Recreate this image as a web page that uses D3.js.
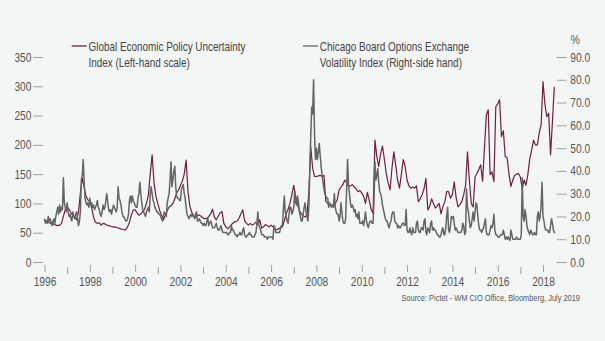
<!DOCTYPE html>
<html><head><meta charset="utf-8">
<script src="https://cdn.jsdelivr.net/npm/d3@7"></script>
<style>
html,body{margin:0;padding:0;background:#f4f5f5;}
svg{display:block;}
text{font-family:"Liberation Sans",Arial,sans-serif;}
</style></head><body>
<svg id="c" width="605" height="341"></svg>
<script>
// ---------- DATA ----------
const startYear = 1996;
const yearTicks = d3.range(1996, 2019);
const leftTicks = [0, 50, 100, 150, 200, 250, 300, 350];
const rightTicks = [0, 10, 20, 30, 40, 50, 60, 70, 80, 90];
const seriesNames = ["Global Economic Policy Uncertainty", "Index (Left-hand scale)",
                     "Chicago Board Options Exchange", "Volatility Index (Right-side hand)"];
const sourceText = "Source: Pictet - WM CIO Office, Bloomberg, July 2019";

// Global Economic Policy Uncertainty index, monthly from Jan 1996 (left scale)
const epu = [
  72,70,68,66,68,64,63,62,63,66,78,90,            // 1996
  94,90,84,80,76,72,85,118,143,128,112,106,       // 1997
  104,92,76,68,66,67,63,66,65,63,62,61,           // 1998
  60,60,59,58,57,56,55,55,60,68,80,89,            // 1999
  89,84,80,82,86,90,100,114,150,183,135,112,      // 2000
  100,88,80,72,80,88,94,96,100,108,118,123,       // 2001
  131,138,150,174,120,95,85,78,76,80,80,78,       // 2002
  75,74,74,78,82,90,76,72,78,84,86,66,            // 2003
  60,57,60,64,67,69,70,75,82,89,70,66,            // 2004
  63,66,63,65,68,64,72,58,60,64,62,60,            // 2005
  63,60,56,55,57,58,60,70,83,90,100,115,          // 2006
  131,112,98,88,82,79,77,80,120,197,160,146,      // 2007
  146,147,148,146,148,103,100,98,97,96,100,106,   // 2008
  123,128,132,140,135,129,130,132,128,125,120,122,// 2009
  118,112,100,119,105,90,83,208,180,163,185,198,  // 2010
  175,151,135,123,160,188,165,140,126,150,175,163,// 2011
  140,130,126,128,126,130,103,108,115,125,143,89, // 2012
  95,108,100,92,96,100,82,95,103,120,120,109,     // 2013
  115,137,110,94,98,103,115,131,188,140,100,94,   // 2014
  145,151,158,166,138,195,251,260,149,154,137,265,// 2015
  270,277,214,224,180,178,150,129,140,148,150,151,// 2016
  145,125,140,131,150,177,191,208,200,200,220,234,// 2017
  308,270,248,254,183,240,299                     // 2018
];

// CBOE Volatility index, twice a month from Jan 1996 (right scale, %)
const vix = [
  19,17,18,17,20,18,19,17,16,18,19,17,20,22,24,21,25,22,24,23,37,26,24,22,   // 1996
  26,22,20,21,19,18,22,20,19,21,22,19,16,18,22,36,38,45,35,28,26,25,26,24,   // 1997
  28,25,26,24,25,23,24,25,27,24,23,21,20,22,25,23,24,27,30,26,23,22,23,21,   // 1998
  23,25,24,23,22,24,33,28,27,25,22,20,20,19,18,18,19,21,27,29,26,29,27,26,   // 1999
  25,24,24,28,30,35,30,26,23,22,21,20,22,23,24,22,30,33,30,27,26,24,23,22,   // 2000
  22,21,21,20,19,18,20,22,21,20,26,28,30,36,44,33,36,40,42,33,29,28,28,27,   // 2001
  27,32,33,34,30,28,24,21,20,19,20,21,20,21,20,19,21,22,18,18,19,18,17,17,   // 2002
  16,17,16,16,18,19,16,17,18,17,15,15,15,16,17,15,14,14,15,16,14,13,13,13,   // 2003
  13,13,12,12,13,13,16,14,14,13,12,12,11,12,12,13,12,12,14,15,12,11,11,12,   // 2004
  12,13,12,12,11,11,11,12,13,17,22,16,15,14,12,12,12,11,11,11,10,11,11,11,   // 2005
  11,11,10,16,15,13,13,13,13,13,15,16,16,23,29,22,20,18,17,21,24,24,21,22,   // 2006
  24,31,26,25,29,26,22,20,18,18,21,24,26,22,20,18,24,40,55,68,65,80,56,45,   // 2007
  50,45,48,52,47,42,38,35,32,30,29,28,28,24,26,25,24,25,24,30,24,22,21,21,   // 2008
  18,20,26,22,18,17,17,19,32,45,34,30,26,24,25,24,22,23,20,21,19,22,17,17,   // 2009
  17,18,16,19,22,18,16,15,17,18,18,17,17,27,44,36,38,41,35,31,30,28,25,23,   // 2010
  21,19,18,18,16,15,17,18,21,22,22,18,17,17,15,16,15,15,16,17,17,16,16,23,   // 2011
  14,13,13,15,13,12,15,13,13,13,17,18,14,13,13,15,15,14,18,19,13,12,15,14,   // 2012
  13,17,18,14,15,14,14,13,12,12,11,11,12,14,15,12,12,15,20,24,14,13,16,20,   // 2013
  19,20,17,14,15,14,13,13,13,13,14,17,16,12,13,32,24,22,18,15,16,19,22,18,   // 2014
  22,26,25,20,16,14,14,13,14,15,17,19,13,12,12,12,14,16,15,17,21,14,12,12,   // 2015
  11,11,11,12,12,12,14,12,10,11,10,11,10,9.5,14,12,10,10,10,10,11,10,10,10,  // 2016
  10,12,37,20,18,23,20,16,14,13,12,14,13,12,12,13,12,12,20,22,18,20,25,35,   // 2017
  20,18,15,14,14,14,13,13,16,19,17,14,13,13                                  // 2018
];

// ---------- CHART ----------
const svg = d3.select("#c");
const colEPU = "#6e1f3e", colVIX = "#646464", txtCol = "#555", tickCol = "#a0a0a0";
const K = 0.8; // horizontal condensing of the sans font (narrow look)

function condense(sel) {
  sel.each(function() {
    const t = d3.select(this);
    const x0 = +t.attr("x") || 0;
    t.attr("x", x0 / K).attr("transform", `scale(${K},1)`);
  });
}
function narrowText(x, y, size, anchor, fill, str) {
  const g = svg.append("g").attr("transform", `translate(${x},${y}) scale(${K},1)`);
  return g.append("text").attr("text-anchor", anchor).attr("fill", fill)
    .style("font-size", size + "px").text(str);
}

const x = d3.scaleLinear().domain([1996, 2018]).range([44.5, 543]);
const yL = d3.scaleLinear().domain([0, 350]).range([262, 57]);
const yR = d3.scaleLinear().domain([0, 90]).range([262, 57]);

const gL = svg.append("g").attr("transform", "translate(43,0)")
  .call(d3.axisLeft(yL).tickValues(leftTicks).tickSize(10).tickPadding(1.5).tickFormat(d3.format("d")));
const gR = svg.append("g").attr("transform", "translate(556.7,0)")
  .call(d3.axisRight(yR).tickValues(rightTicks).tickSize(10).tickPadding(3.5).tickFormat(d3.format(".1f")));
const gB = svg.append("g").attr("transform", "translate(0,265)")
  .call(d3.axisBottom(x).tickValues(yearTicks).tickSize(7).tickPadding(5.3)
    .tickFormat(d => d % 2 === 0 ? String(d) : ""));
gB.selectAll(".tick").filter(d => d % 2 !== 0).select("line").attr("y1", 2).attr("y2", 9);

[gL, gR, gB].forEach(g => {
  g.select(".domain").remove();
  g.selectAll(".tick line").attr("stroke", tickCol).attr("stroke-width", 1);
  g.selectAll(".tick text").attr("fill", txtCol).style("font-size", "12.8px")
    .style("font-family", '"Liberation Sans",Arial,sans-serif');
  condense(g.selectAll(".tick text"));
});

narrowText(570.7, 44, 12.8, "start", txtCol, "%");

// lines
const lineEPU = d3.line().x((d, i) => x(startYear + i / 12)).y(d => yL(d));
const lineVIX = d3.line().x((d, i) => x(startYear + i / 24)).y(d => yR(d));

svg.append("path").datum(epu).attr("d", lineEPU)
  .attr("fill", "none").attr("stroke", colEPU).attr("stroke-width", 1.2).attr("stroke-linejoin", "round");
svg.append("path").datum(vix).attr("d", lineVIX)
  .attr("fill", "none").attr("stroke", colVIX).attr("stroke-width", 1.5).attr("stroke-linejoin", "round");

// legend
const legend = [
  {x: 71.7, color: colEPU, lines: [seriesNames[0], seriesNames[1]]},
  {x: 303, color: colVIX, lines: [seriesNames[2], seriesNames[3]]}
];
legend.forEach(l => {
  svg.append("line").attr("x1", l.x).attr("x2", l.x + 15).attr("y1", 46).attr("y2", 46)
    .attr("stroke", l.color).attr("stroke-width", 1.3);
  l.lines.forEach((s, i) => narrowText(l.x + 16.8, 50.5 + i * 16.5, 12.4, "start", "#444", s));
});

// source
narrowText(580, 301, 9.3, "end", txtCol, sourceText);
</script>
</body></html>
